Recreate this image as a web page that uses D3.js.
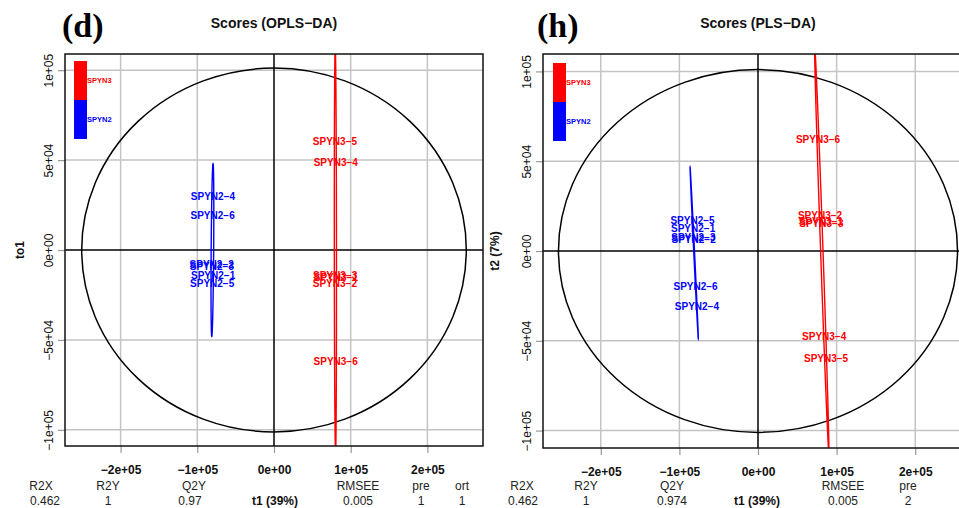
<!DOCTYPE html>
<html>
<head>
<meta charset="utf-8">
<script src="https://cdn.jsdelivr.net/npm/d3@7"></script>
<style>
body{margin:0;background:#fff;}
text{font-family:"Liberation Sans",Arial,Helvetica,sans-serif;}
</style>
</head>
<body>
<div id="fig"></div>
<script>
var svgW=959,svgH=508;

// samples (score plots share the same 12 samples)
var sampleNames=["SPYN2-1","SPYN2-2","SPYN2-3","SPYN2-4","SPYN2-5","SPYN2-6","SPYN3-1","SPYN3-2","SPYN3-3","SPYN3-4","SPYN3-5","SPYN3-6"];
var sampleGroup=["SPYN2","SPYN2","SPYN2","SPYN2","SPYN2","SPYN2","SPYN3","SPYN3","SPYN3","SPYN3","SPYN3","SPYN3"];
var groupNames=["SPYN3","SPYN2"];

// (d) OPLS-DA scores
var oplsT1=[-79400,-81200,-81000,-79600,-80600,-80000,80700,79400,79700,80600,79500,80400];
var oplsTo1=[-13900,-8000,-8900,30000,-18300,19000,-15000,-18300,-13900,48900,60600,-61700];
// (h) PLS-DA scores
var plsT1=[-82500,-81900,-82200,-77700,-83300,-79400,79800,78900,80600,84200,86600,76400];
var plsT2=[12800,6700,7800,-31000,16900,-19900,16400,20100,15600,-47400,-59600,62400];

var xTicks=[-2e5,-1e5,0,1e5,2e5];
var xTickLabels=["\u22122e+05","\u22121e+05","0e+00","1e+05","2e+05"];
var yTicks=[-1e5,-5e4,0,5e4,1e5];
var yTickLabels=["\u22121e+05","\u22125e+04","0e+00","5e+04","1e+05"];

var oplsMetricNames=["R2X","R2Y","Q2Y","RMSEE","pre","ort"];
var oplsMetricValues=["0.462","1","0.97","0.005","1","1"];
var plsMetricNames=["R2X","R2Y","Q2Y","RMSEE","pre"];
var plsMetricValues=["0.462","1","0.974","0.005","2"];

var fQuantile=4.103;      // F(0.95, 2, n-2), n = 12
var chiQuantile=5.991;    // chi2(0.95, 2)

var groupcolor={"SPYN3":"#ff0000","SPYN2":"#0000ff"};
var gridcolor="#c4c4c4";

var svg=d3.select("#fig").append("svg")
    .attr("width",svgW)
    .attr("height",svgH);

function mean(a){return d3.mean(a);}

function hotellingRadius(v){
    var n=v.length;
    return d3.deviation(v)*Math.sqrt(2*(n-1)*(n*n-1)/(n*n*(n-2))*fQuantile);
}

// ellipse of one group from its covariance
function groupEllipse(xs,ys){
    var mx=mean(xs),my=mean(ys),n=xs.length;
    var sxx=0,syy=0,sxy=0;
    for(var i=0;i<n;i++){
        sxx+=(xs[i]-mx)*(xs[i]-mx);
        syy+=(ys[i]-my)*(ys[i]-my);
        sxy+=(xs[i]-mx)*(ys[i]-my);
    }
    sxx/=n-1;syy/=n-1;sxy/=n-1;
    var a=Math.sqrt(sxx),b=sxy/a,c=Math.sqrt(syy-b*b),k=Math.sqrt(chiQuantile);
    var pts=[];
    for(var t=0;t<=200;t++){
        var th=Math.PI*2*t/200;
        pts.push([mx+k*a*Math.cos(th),my+k*(b*Math.cos(th)+c*Math.sin(th))]);
    }
    return pts;
}

function drawPanel(p){
    var g=svg.append("g").attr("id",p.id);
    var x=d3.scaleLinear().domain(p.xDomain).range([p.left,p.right]);
    var y=d3.scaleLinear().domain(p.yDomain).range([p.bottom,p.top]);

    g.append("clipPath").attr("id",p.id+"clip")
        .append("rect")
        .attr("x",p.left).attr("y",p.top)
        .attr("width",p.right-p.left).attr("height",p.bottom-p.top);

    // grid
    g.selectAll(".vgrid").data(xTicks.filter(function(d){return d!==0;})).enter()
        .append("line")
        .attr("x1",function(d){return x(d);}).attr("x2",function(d){return x(d);})
        .attr("y1",p.top).attr("y2",p.bottom)
        .attr("stroke",gridcolor).attr("stroke-width",1.5);
    g.selectAll(".hgrid").data(yTicks.filter(function(d){return d!==0;})).enter()
        .append("line")
        .attr("y1",function(d){return y(d);}).attr("y2",function(d){return y(d);})
        .attr("x1",p.left).attr("x2",p.right)
        .attr("stroke",gridcolor).attr("stroke-width",1.5);

    // axes
    var xAxis=g.append("g")
        .attr("transform","translate(0,"+p.bottom+")")
        .call(d3.axisBottom(x).tickValues(xTicks).tickFormat(function(d,i){return xTickLabels[i];}).tickSize(7).tickSizeOuter(0));
    xAxis.select(".domain").remove();
    xAxis.attr("font-size",12).attr("font-family",null);
    xAxis.selectAll("line").attr("stroke","#999").attr("stroke-width",1.2);
    xAxis.selectAll("text").attr("y",28).attr("dy",null).style("font-weight","bold").attr("fill","#111");

    var yAxis=g.append("g")
        .attr("transform","translate("+p.left+",0)")
        .call(d3.axisLeft(y).tickValues(yTicks).tickFormat(function(d,i){return yTickLabels[i];}).tickSize(7).tickSizeOuter(0));
    yAxis.select(".domain").remove();
    yAxis.attr("font-size",12).attr("font-family",null);
    yAxis.selectAll("line").attr("stroke","#999").attr("stroke-width",1.2);
    yAxis.selectAll("text")
        .attr("transform","rotate(-90)")
        .attr("x",0).attr("y",-12).attr("dy",null)
        .attr("text-anchor","middle").attr("fill","#111");

    // zero lines
    g.append("line").attr("x1",p.left).attr("x2",p.right).attr("y1",y(0)).attr("y2",y(0))
        .attr("stroke","#000").attr("stroke-width",1.5);
    g.append("line").attr("x1",x(0)).attr("x2",x(0)).attr("y1",p.top).attr("y2",p.bottom)
        .attr("stroke","#000").attr("stroke-width",1.5);

    var inner=g.append("g").attr("clip-path","url(#"+p.id+"clip)");

    // Hotelling ellipse
    var rx=hotellingRadius(p.t1),ry=hotellingRadius(p.t2);
    inner.append("ellipse")
        .attr("cx",x(0)).attr("cy",y(0))
        .attr("rx",x(rx)-x(0)).attr("ry",y(0)-y(ry))
        .attr("fill","none").attr("stroke","#000").attr("stroke-width",1.5);

    // group ellipses
    var line=d3.line().x(function(d){return x(d[0]);}).y(function(d){return y(d[1]);});
    groupNames.forEach(function(gn){
        var xs=[],ys=[];
        for(var i=0;i<sampleNames.length;i++){
            if(sampleGroup[i]==gn){xs.push(p.t1[i]);ys.push(p.t2[i]);}
        }
        inner.append("path")
            .attr("d",line(groupEllipse(xs,ys)))
            .attr("fill","none").attr("stroke",groupcolor[gn]).attr("stroke-width",1.4);
    });

    // sample labels
    inner.selectAll(".lab").data(sampleNames).enter()
        .append("text")
        .attr("x",function(d,i){return x(p.t1[i]);})
        .attr("y",function(d,i){return y(p.t2[i]);})
        .attr("dy","0.36em")
        .attr("text-anchor","middle")
        .style("font-size","10px").style("font-weight","bold")
        .attr("fill",function(d,i){return groupcolor[sampleGroup[i]];})
        .text(function(d){return d.replace("-","\u2212");});

    // box
    g.append("rect").attr("x",p.left).attr("y",p.top)
        .attr("width",p.right-p.left).attr("height",p.bottom-p.top)
        .attr("fill","none").attr("stroke","#111").attr("stroke-width",1.5);

    // legend
    groupNames.forEach(function(gn,i){
        g.append("rect")
            .attr("x",p.legX).attr("y",p.legY+i*p.legH)
            .attr("width",13).attr("height",p.legH)
            .attr("fill",groupcolor[gn]);
        g.append("text")
            .attr("x",p.legX+13).attr("y",p.legY+i*p.legH+p.legH/2)
            .attr("dy","0.35em")
            .style("font-size","7.5px").style("font-weight","bold")
            .attr("fill",groupcolor[gn])
            .text(gn);
    });

    // titles
    g.append("text").attr("x",p.titleX).attr("y",28).attr("text-anchor","middle")
        .style("font-size","14px").style("font-weight","bold").attr("fill","#111")
        .text(p.title);
    g.append("text").attr("x",p.tagX).attr("y",37)
        .style("font-family","'Liberation Serif','Times New Roman',serif")
        .style("font-size","34px").style("font-weight","bold")
        .text(p.tag);
    g.append("text").attr("transform","translate("+p.ylabX+","+y(0)+") rotate(-90)")
        .attr("text-anchor","middle")
        .style("font-size","12px").style("font-weight","bold").attr("fill","#111")
        .text(p.ylab);

    // model summary under the plot
    p.metricNames.forEach(function(m,i){
        g.append("text").attr("x",p.headX[i]).attr("y",490).attr("text-anchor","middle")
            .style("font-size","12px").attr("fill","#222").text(m);
        g.append("text").attr("x",p.valX[i]).attr("y",505).attr("text-anchor","middle")
            .style("font-size","12px").attr("fill","#222").text(p.metricValues[i]);
    });
    g.append("text").attr("x",p.xlabX).attr("y",505).attr("text-anchor","middle")
        .style("font-size","12px").style("font-weight","bold").attr("fill","#111")
        .text("t1 (39%)");
}

drawPanel({
    id:"opls",left:65,right:483,top:54,bottom:446,
    xDomain:[-2.725e5,2.725e5],yDomain:[-1.09e5,1.09e5],
    t1:oplsT1,t2:oplsTo1,
    title:"Scores (OPLS\u2212DA)",titleX:274,tag:"(d)",tagX:62,
    ylab:"to1",ylabX:24,
    legX:74,legY:61,legH:39,
    metricNames:oplsMetricNames,metricValues:oplsMetricValues,
    headX:[41,108,194,358,421,462],valX:[45,108,190,358,421,462],xlabX:275
});

drawPanel({
    id:"pls",left:543,right:973,top:54,bottom:448,
    xDomain:[-2.735e5,2.735e5],yDomain:[-1.097e5,1.097e5],
    t1:plsT1,t2:plsT2,
    title:"Scores (PLS\u2212DA)",titleX:758,tag:"(h)",tagX:537,
    ylab:"t2 (7%)",ylabX:499,
    legX:553,legY:63,legH:39,
    metricNames:plsMetricNames,metricValues:plsMetricValues,
    headX:[522,586,672,843,908],valX:[523,586,672,843,908],xlabX:757
});
</script>
</body>
</html>
